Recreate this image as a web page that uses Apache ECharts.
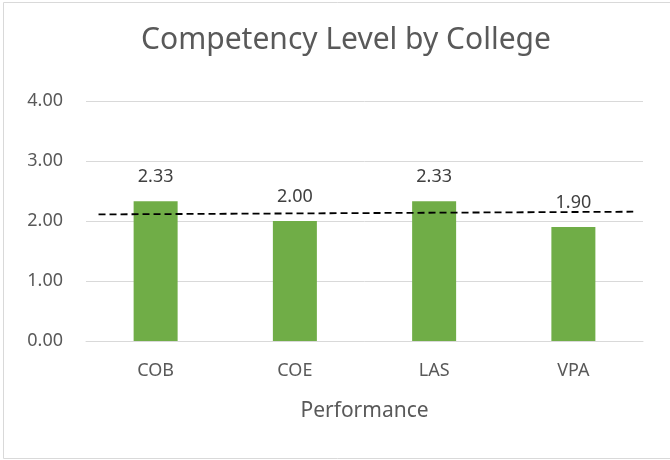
<!DOCTYPE html>
<html>
<head>
<meta charset="utf-8">
<script src="https://cdn.jsdelivr.net/npm/echarts@6/dist/echarts.min.js"></script>
<style>
  html, body { margin: 0; padding: 0; background: #fff; }
  #chart { width: 670px; height: 460px; }
</style>
</head>
<body>
<div id="chart"></div>
<script>
// 数据
const colleges = ["COB", "COE", "LAS", "VPA"];
const levels = [2.33, 2.0, 2.33, 1.9];
const yTicks = [0, 1, 2, 3, 4];
// 虚线趋势线（按类别位置 0~4 取两个端点）
const trendX = [0.09, 3.93];
const trendY = [2.11, 2.155];

const txt = "#595959";
const font = "Noto Sans";

const myChart = echarts.init(document.getElementById("chart"));
myChart.setOption({
  animation: false,
  textStyle: { fontFamily: font },
  title: {
    text: "Competency Level by College",
    left: 341,
    top: 20,
    textAlign: "center",
    textStyle: { fontSize: 30, fontWeight: "normal", color: txt, fontFamily: font },
  },
  graphic: [
    {
      type: "rect",
      shape: { x: 3.5, y: 2.5, width: 700, height: 456 },
      style: { fill: "none", stroke: "#d9d9d9", lineWidth: 1 },
      silent: true,
    },
  ],
  grid: { left: 86, right: 27, top: 101, bottom: 119 },
  xAxis: [
    {
      type: "category",
      data: colleges,
      axisLine: { lineStyle: { color: "#d9d9d9" } },
      axisTick: { show: false },
      axisLabel: { color: txt, fontSize: 18, margin: 21 },
      name: "Performance",
      nameLocation: "middle",
      nameGap: 60,
      nameTextStyle: { color: txt, fontSize: 21 },
    },
    {
      type: "value",
      min: 0,
      max: 4,
      show: false,
    },
  ],
  yAxis: {
    type: "value",
    min: yTicks[0],
    max: yTicks[yTicks.length - 1],
    interval: 1,
    axisLine: { show: false },
    axisTick: { show: false },
    splitLine: { lineStyle: { color: "#d9d9d9" } },
    axisLabel: {
      color: txt,
      fontSize: 18,
      margin: 23,
      formatter: (v) => v.toFixed(2),
    },
  },
  series: [
    {
      type: "bar",
      data: levels,
      barWidth: 44,
      itemStyle: { color: "#70AD47" },
      label: {
        show: true,
        position: "top",
        distance: 15,
        color: "#404040",
        fontSize: 18,
        formatter: (p) => p.value.toFixed(2),
      },
    },
    {
      type: "line",
      xAxisIndex: 1,
      data: trendX.map((x, i) => [x, trendY[i]]),
      symbol: "none",
      lineStyle: { color: "#000", width: 1.8, type: [7, 4] },
      z: 5,
    },
  ],
});
</script>
</body>
</html>
